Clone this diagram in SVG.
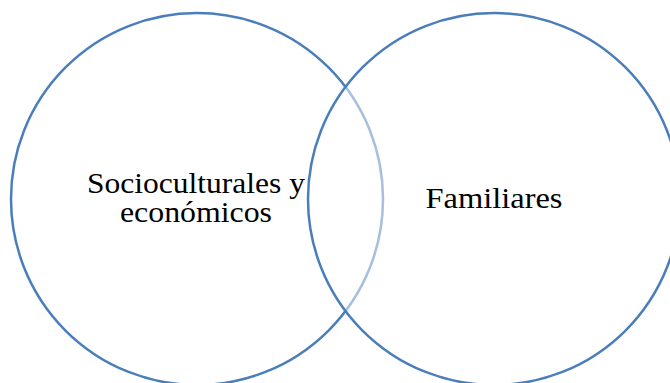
<svg xmlns="http://www.w3.org/2000/svg" width="670" height="383" viewBox="0 0 670 383">
<style>
.c{stroke:#4a7ebb;stroke-width:2.5}
.t{font-family:"Liberation Serif",serif;font-size:29px;fill:#000;text-anchor:middle}
</style>
<rect width="670" height="383" fill="#fff"/>
<g id="node-socioculturales">
<circle class="c" cx="197" cy="199" r="186" fill="#fff"/>
</g>
<g id="node-familiares">
<circle class="c" cx="494" cy="199" r="186" fill="#fff" fill-opacity="0.5"/>
</g>
<g id="labels">
<text class="t" x="196" y="193" textLength="218" lengthAdjust="spacingAndGlyphs">Socioculturales y</text>
<text class="t" x="196" y="222" textLength="152" lengthAdjust="spacingAndGlyphs">económicos</text>
<text class="t" x="494" y="208" textLength="137" lengthAdjust="spacingAndGlyphs">Familiares</text>
</g>
<g id="connectors"></g>
</svg>
